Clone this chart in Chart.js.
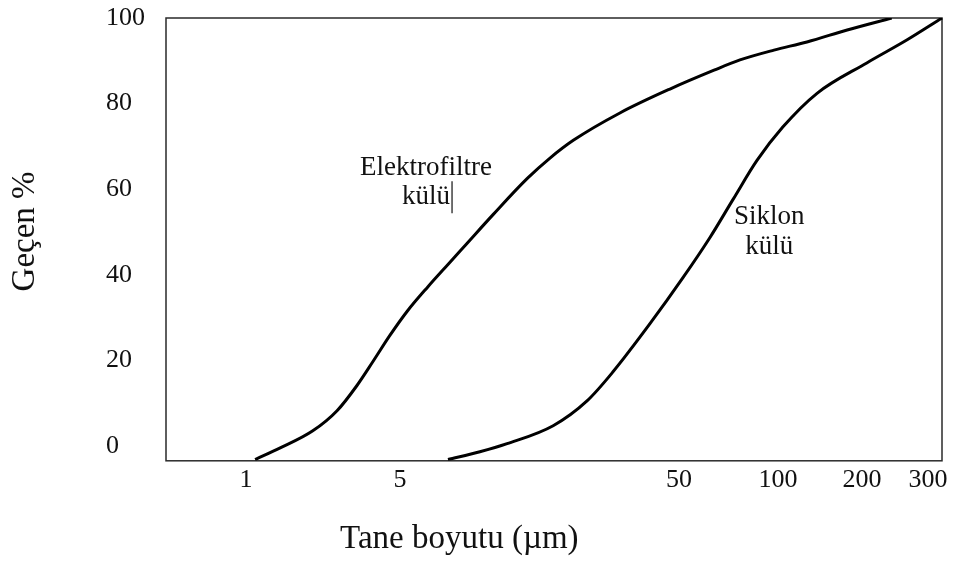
<!DOCTYPE html>
<html>
<head>
<meta charset="utf-8">
<script src="https://cdn.jsdelivr.net/npm/chart.js@4.4.1/dist/chart.umd.min.js"></script>
<style>
  html, body { margin: 0; padding: 0; background: #fff; }
</style>
</head>
<body>
<canvas id="psdChart" width="954" height="561"></canvas>
<script>
// axis ticks
const xTickValues = [1, 5, 50, 100, 200, 300];
const yTickValues = [0, 20, 40, 60, 80, 100];

// particle size (µm) vs passing (%)
const elektroSize = [1.1, 1.43, 2.01, 2.59, 3.19, 3.77, 4.5, 5.3, 6.3, 7.43, 8.69, 10.8, 14.3, 17.2, 20.9, 30.7, 46.4, 63.9, 76.6, 97.2, 127, 177, 240];
const elektroPass = [-3.2, -0.5, 3.5, 8.2, 14.1, 19.7, 25.8, 31.4, 37.2, 42.4, 47.3, 54.1, 62.5, 67.2, 71.4, 77.8, 83.4, 87.8, 90.2, 92.5, 94.4, 97.2, 100];

const siklonSize = [7.43, 9.67, 12.1, 17.7, 23.4, 29.0, 39.4, 51.4, 62.1, 73.0, 86.3, 104, 138, 206, 264, 327];
const siklonPass = [-3.2, -1.4, 0.5, 4.7, 10.5, 17.3, 28.6, 39.3, 48.7, 57.6, 66.7, 74.5, 82.4, 89.5, 94.9, 100];

const FONT = '"Liberation Serif", "Times New Roman", serif';

// the size axis in the figure is hand spaced, so ticks sit at fixed fractions
// and values in between are interpolated on a log basis
class AnchoredLogScale extends Chart.LinearScale {
  static id = 'anchoredLog';
  static defaults = {};

  buildTicks() {
    return xTickValues.map(v => ({ value: v }));
  }

  segment(i) {
    const at = this.options.anchorAt;
    return {
      l0: Math.log10(xTickValues[i]), l1: Math.log10(xTickValues[i + 1]),
      f0: at[i], f1: at[i + 1]
    };
  }

  getPixelForValue(value) {
    const lv = Math.log10(value);
    let i = 0;
    while (i < xTickValues.length - 2 && lv > Math.log10(xTickValues[i + 1])) i++;
    const s = this.segment(i);
    return this.getPixelForDecimal(s.f0 + (lv - s.l0) / (s.l1 - s.l0) * (s.f1 - s.f0));
  }

  getValueForPixel(pixel) {
    const f = this.getDecimalForPixel(pixel);
    const at = this.options.anchorAt;
    let i = 0;
    while (i < at.length - 2 && f > at[i + 1]) i++;
    const s = this.segment(i);
    return Math.pow(10, s.l0 + (f - s.f0) / (s.f1 - s.f0) * (s.l1 - s.l0));
  }
}
Chart.register(AnchoredLogScale);

const paperText = {
  id: 'paperText',
  beforeDatasetsDraw(chart) {
    const { ctx, chartArea: a } = chart;
    ctx.save();
    ctx.strokeStyle = '#2a2a2a';
    ctx.lineWidth = 1.5;
    ctx.strokeRect(a.left, a.top, a.right - a.left, a.bottom - a.top);
    ctx.restore();
  },
  afterDraw(chart) {
    const { ctx, chartArea: a, scales: { x, y } } = chart;
    ctx.save();
    ctx.fillStyle = '#111';
    ctx.textAlign = 'center';
    ctx.textBaseline = 'middle';

    ctx.font = '27px ' + FONT;
    const ex = x.getPixelForValue(6.2);
    ctx.fillText('Elektrofiltre', ex, y.getPixelForValue(64.9));
    const ky = y.getPixelForValue(58.1);
    ctx.fillText('külü', ex, ky);
    // stray text cursor left in the original figure
    const kw = ctx.measureText('külü').width;
    ctx.strokeStyle = '#111';
    ctx.lineWidth = 1.2;
    ctx.beginPath();
    ctx.moveTo(ex + kw / 2 + 2, ky - 16);
    ctx.lineTo(ex + kw / 2 + 2, ky + 16);
    ctx.stroke();

    const sx = x.getPixelForValue(94);
    ctx.fillText('Siklon', sx, y.getPixelForValue(53.4));
    ctx.fillText('külü', sx, y.getPixelForValue(46.4));

    // axis titles
    ctx.font = '33px ' + FONT;
    ctx.textBaseline = 'alphabetic';
    ctx.fillText('Tane boyutu (µm)', a.left + 0.378 * (a.right - a.left), chart.height - 13);

    ctx.translate(25, a.top + 0.482 * (a.bottom - a.top));
    ctx.rotate(-Math.PI / 2);
    ctx.textBaseline = 'middle';
    ctx.fillText('Geçen %', 0, 0);
    ctx.restore();
  }
};

const ctx = document.getElementById('psdChart').getContext('2d');

new Chart(ctx, {
  type: 'line',
  data: {
    datasets: [
      {
        label: 'Elektrofiltre külü',
        data: elektroSize.map((s, i) => ({ x: s, y: elektroPass[i] })),
        borderColor: '#000',
        borderWidth: 3,
        pointRadius: 0,
        cubicInterpolationMode: 'monotone',
        fill: false
      },
      {
        label: 'Siklon külü',
        data: siklonSize.map((s, i) => ({ x: s, y: siklonPass[i] })),
        borderColor: '#000',
        borderWidth: 3,
        pointRadius: 0,
        cubicInterpolationMode: 'monotone',
        fill: false
      }
    ]
  },
  options: {
    responsive: false,
    animation: false,
    events: [],
    layout: { padding: { left: 106, top: 18, right: 12, bottom: 61 } },
    plugins: {
      legend: { display: false },
      tooltip: { enabled: false }
    },
    scales: {
      x: {
        type: 'anchoredLog',
        anchorAt: [0.1031, 0.3015, 0.6611, 0.7887, 0.8969, 0.982],
        grid: { display: false, drawTicks: false },
        border: { display: false },
        ticks: {
          autoSkip: false,
          maxRotation: 0,
          padding: 4,
          color: '#111',
          font: { family: FONT, size: 26 },
          callback: (v) => String(v)
        }
      },
      y: {
        min: -3.5,
        max: 100,
        afterBuildTicks: (axis) => { axis.ticks = yTickValues.map(v => ({ value: v })); },
        afterFit: (axis) => { axis.width = 60; },
        grid: { display: false, drawTicks: false },
        border: { display: false },
        ticks: {
          padding: 1,
          crossAlign: 'far',
          color: '#111',
          font: { family: FONT, size: 26 }
        }
      }
    }
  },
  plugins: [paperText]
});
</script>
</body>
</html>
